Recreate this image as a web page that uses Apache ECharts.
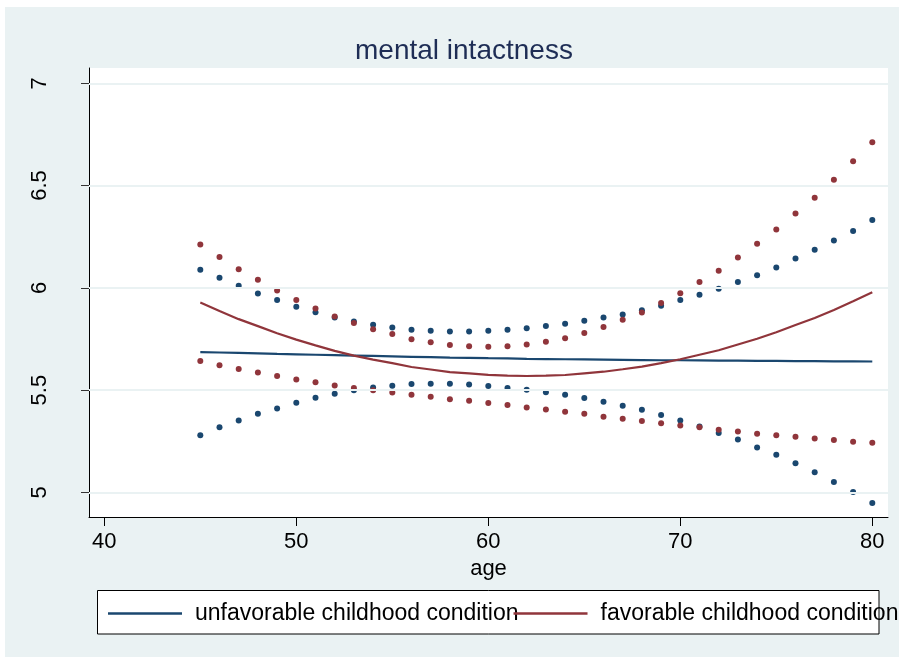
<!DOCTYPE html>
<html>
<head>
<meta charset="utf-8">
<script src="https://cdn.jsdelivr.net/npm/echarts@6/dist/echarts.min.js"></script>
<style>
html,body{margin:0;padding:0;background:#fff;}
#wrap{position:relative;width:899px;height:659px;}
#bg{position:absolute;left:5px;top:7px;right:0;bottom:2px;background:#EAF2F3;}
#chart{position:absolute;left:0;top:0;width:899px;height:659px;}
</style>
</head>
<body>
<div id="wrap"><div id="bg"></div><div id="chart"></div></div>
<script>
const ages = [45,46,47,48,49,50,51,52,53,54,55,56,57,58,59,60,61,62,63,64,65,66,67,68,69,70,71,72,73,74,75,76,77,78,79,80];

const unfavFit = [5.686,5.684,5.682,5.680,5.677,5.675,5.673,5.671,5.669,5.667,5.665,5.663,5.661,5.659,5.658,5.656,5.655,5.653,5.652,5.651,5.650,5.649,5.648,5.647,5.646,5.646,5.645,5.644,5.644,5.643,5.643,5.642,5.642,5.641,5.641,5.640];
const unfavUpper = [6.089,6.049,6.010,5.972,5.940,5.907,5.881,5.855,5.835,5.819,5.806,5.795,5.790,5.787,5.787,5.790,5.795,5.803,5.814,5.824,5.839,5.855,5.870,5.891,5.913,5.940,5.966,5.995,6.028,6.062,6.099,6.143,6.186,6.231,6.278,6.332];
const unfavLower = [5.280,5.318,5.352,5.384,5.410,5.438,5.463,5.482,5.500,5.513,5.521,5.530,5.531,5.531,5.528,5.520,5.511,5.502,5.490,5.477,5.461,5.443,5.424,5.404,5.379,5.352,5.322,5.290,5.259,5.220,5.184,5.142,5.098,5.051,5.002,4.948];

const favFit = [5.928,5.887,5.847,5.813,5.778,5.747,5.719,5.692,5.669,5.649,5.632,5.613,5.601,5.588,5.582,5.575,5.571,5.569,5.571,5.574,5.582,5.590,5.602,5.615,5.632,5.651,5.673,5.695,5.723,5.751,5.783,5.818,5.853,5.892,5.934,5.978];
const favUpper = [6.212,6.151,6.091,6.039,5.987,5.941,5.899,5.860,5.828,5.798,5.774,5.749,5.734,5.720,5.715,5.712,5.715,5.723,5.736,5.754,5.779,5.809,5.844,5.880,5.926,5.974,6.028,6.083,6.148,6.215,6.285,6.363,6.441,6.528,6.619,6.712];
const favLower = [5.643,5.622,5.603,5.586,5.569,5.552,5.539,5.523,5.510,5.500,5.489,5.477,5.468,5.456,5.448,5.437,5.427,5.415,5.405,5.394,5.384,5.370,5.360,5.349,5.338,5.327,5.318,5.306,5.298,5.287,5.280,5.272,5.264,5.256,5.248,5.243];

const xTicks = [40,50,60,70,80];
const yTicks = [5,5.5,6,6.5,7];
const seriesNames = ['unfavorable childhood condition','favorable childhood condition'];

const BLUE = '#1A476F', RED = '#90353B';
const FONT = 'Liberation Sans, Arial, sans-serif';
const pair = arr => ages.map((a,i)=>[a,arr[i]]);

const chart = echarts.init(document.getElementById('chart'), null, {renderer:'canvas'});
const dot = (data,color)=>({type:'scatter',data:pair(data),symbol:'circle',symbolSize:6,
  itemStyle:{color:color,opacity:1},clip:false,silent:true,z:3});
chart.setOption({
  animation:false,
  backgroundColor:'transparent',
  textStyle:{fontFamily:FONT},
  title:{text:'mental intactness',left:350,top:32,
    textStyle:{fontFamily:FONT,fontSize:28,fontWeight:'normal',color:'#1E2D55'}},
  graphic:[{type:'rect',shape:{x:97.5,y:590.5,width:781.5,height:43.5},
    style:{fill:'#fff',stroke:'#000',lineWidth:1},z:0}],
  legend:{data:seriesNames,left:108,top:602,padding:0,itemGap:-5,
    icon:'rect',itemWidth:74,itemHeight:2.5,
    textStyle:{fontFamily:FONT,fontSize:23,color:'#000',padding:[0,0,0,8]},z:5},
  grid:{left:89,top:68,right:11,bottom:142,show:true,backgroundColor:'#fff',borderWidth:0},
  xAxis:{type:'value',min:39.203,max:80.818,
    name:'age',nameLocation:'middle',nameGap:36,
    nameTextStyle:{fontFamily:FONT,fontSize:22,color:'#000'},
    axisLine:{show:true,onZero:false,lineStyle:{color:'#000',width:1}},
    axisTick:{show:true,length:9,customValues:xTicks,lineStyle:{color:'#000'}},
    axisLabel:{customValues:xTicks,fontSize:22,color:'#000',margin:14,fontFamily:FONT},
    splitLine:{show:false}},
  yAxis:{type:'value',min:4.8798,max:7.0747,
    axisLine:{show:true,onZero:false,lineStyle:{color:'#000',width:1}},
    axisTick:{show:true,length:8,customValues:yTicks,lineStyle:{color:'#333'}},
    axisLabel:{customValues:yTicks,rotate:90,fontSize:22,color:'#000',margin:38,fontFamily:FONT},
    splitLine:{show:false}},
  series:[
    {type:'line',data:[],silent:true,z:1,
      markLine:{silent:true,symbol:['none','none'],label:{show:false},
        lineStyle:{color:'#EAF2F3',type:'solid',width:2},
        data:yTicks.map(v=>({yAxis:v}))}},
    dot(unfavUpper,BLUE),dot(unfavLower,BLUE),
    dot(favUpper,RED),dot(favLower,RED),
    {name:seriesNames[0],type:'line',data:pair(unfavFit),symbol:'none',showSymbol:false,
      lineStyle:{color:BLUE,width:2.2},itemStyle:{color:BLUE},z:4},
    {name:seriesNames[1],type:'line',data:pair(favFit),symbol:'none',showSymbol:false,
      lineStyle:{color:RED,width:2.2},itemStyle:{color:RED},z:4}
  ]
});
</script>
</body>
</html>
